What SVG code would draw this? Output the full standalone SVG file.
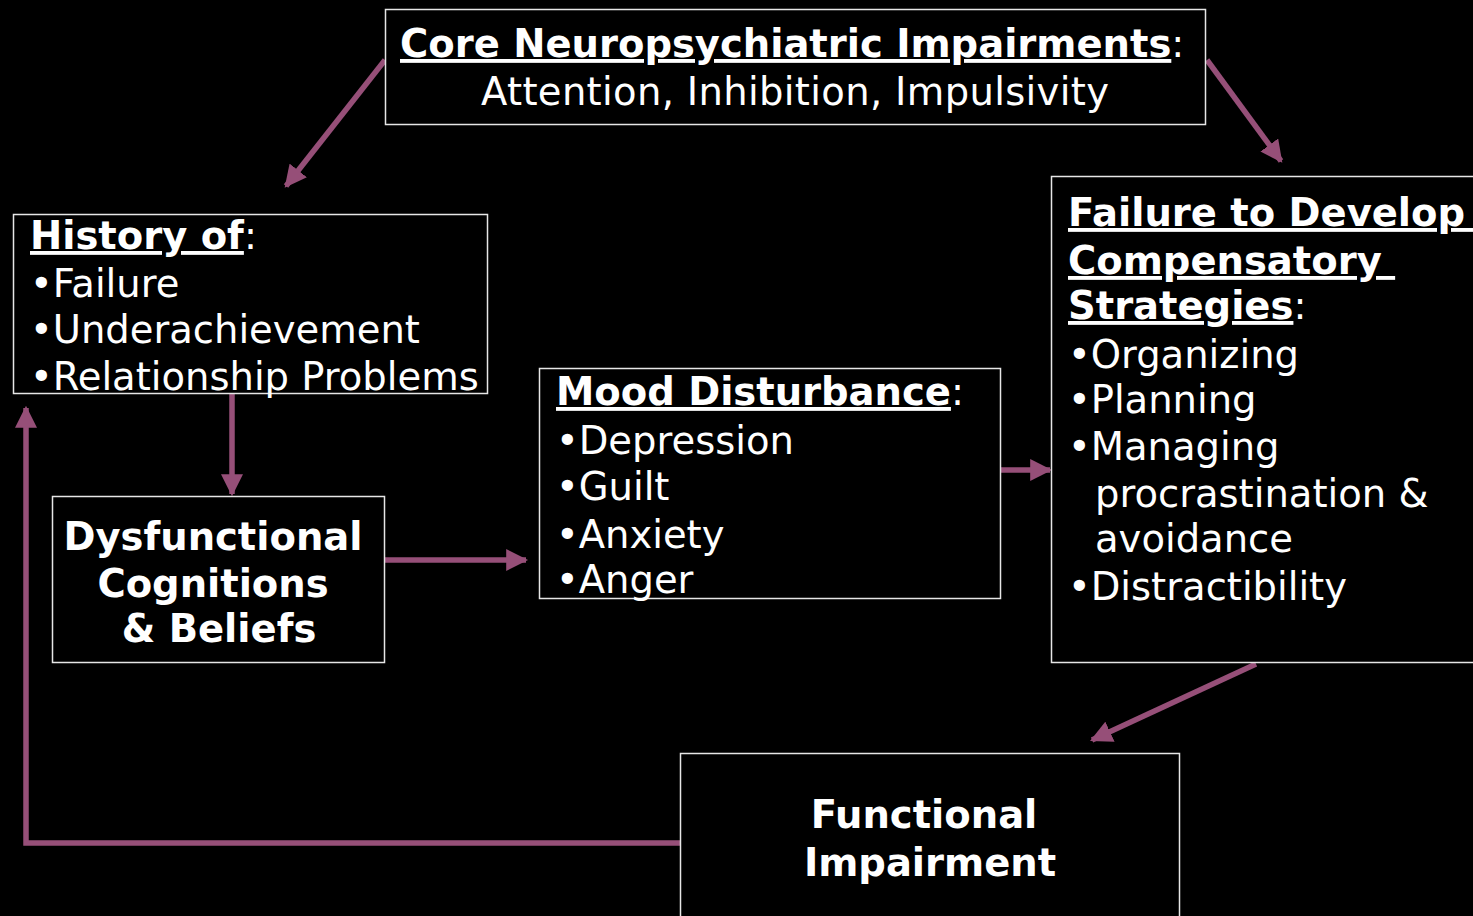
<svg xmlns="http://www.w3.org/2000/svg" width="1473" height="916" viewBox="0 0 1473 916">
<defs>
<style>
.box{fill:#000;stroke:#e6e6e6;stroke-width:1.5}
.t{font-family:"DejaVu Sans",Verdana,sans-serif;font-size:38.5px;fill:#fff}
.b{font-weight:bold}
.u{text-decoration:underline}
.c{fill:none;stroke:#964f78;stroke-width:5.5}
</style>
<marker id="ah" viewBox="0 0 10 10" refX="9" refY="5" markerWidth="4" markerHeight="4" orient="auto" markerUnits="strokeWidth">
<path d="M0,0 L10,5 L0,10 z" fill="#964f78"/>
</marker>
</defs>
<rect width="1473" height="916" fill="#000"/>
<g id="connectors">
<line class="c" x1="385" y1="60" x2="286" y2="186" marker-end="url(#ah)"/>
<line class="c" x1="1207" y1="60" x2="1281" y2="161" marker-end="url(#ah)"/>
<line class="c" x1="232" y1="394" x2="232" y2="494" marker-end="url(#ah)"/>
<line class="c" x1="385" y1="560" x2="526" y2="560" marker-end="url(#ah)"/>
<line class="c" x1="1001" y1="470" x2="1050" y2="470" marker-end="url(#ah)"/>
<line class="c" x1="1256" y1="664" x2="1092" y2="740" marker-end="url(#ah)"/>
<polyline class="c" points="680,843 26,843 26,408" marker-end="url(#ah)"/>
</g>
<g id="core">
<rect class="box" x="385.5" y="9.5" width="820" height="115"/>
<text class="t" x="400" y="57"><tspan class="b u">Core Neuropsychiatric Impairments</tspan>:</text>
<text class="t" x="795" y="105" text-anchor="middle" textLength="628" lengthAdjust="spacing">Attention, Inhibition, Impulsivity</text>
</g>
<g id="history">
<rect class="box" x="13.5" y="214.5" width="474" height="179"/>
<text class="t" x="30" y="249"><tspan class="b u">History of</tspan>:</text>
<text class="t" x="30" y="297">•Failure</text>
<text class="t" x="30" y="343">•Underachievement</text>
<text class="t" x="30" y="390">•Relationship Problems</text>
</g>
<g id="dysfunctional">
<rect class="box" x="52.5" y="496.5" width="332" height="166"/>
<text class="t b" x="213" y="550" text-anchor="middle">Dysfunctional</text>
<text class="t b" x="213" y="597" text-anchor="middle">Cognitions</text>
<text class="t b" x="219" y="642" text-anchor="middle">&amp; Beliefs</text>
</g>
<g id="mood">
<rect class="box" x="539.5" y="368.5" width="461" height="230"/>
<text class="t" x="556" y="405"><tspan class="b u">Mood Disturbance</tspan>:</text>
<text class="t" x="556" y="454">•Depression</text>
<text class="t" x="556" y="500">•Guilt</text>
<text class="t" x="556" y="548">•Anxiety</text>
<text class="t" x="556" y="593">•Anger</text>
</g>
<g id="failure">
<rect class="box" x="1051.5" y="176.5" width="430" height="486"/>
<text class="t b u" x="1068" y="226">Failure to Develop&#160;</text>
<text class="t b u" x="1068" y="274">Compensatory&#160;</text>
<text class="t" x="1068" y="319"><tspan class="b u">Strategies</tspan>:</text>
<text class="t" x="1068" y="368">•Organizing</text>
<text class="t" x="1068" y="413">•Planning</text>
<text class="t" x="1068" y="460">•Managing</text>
<text class="t" x="1095" y="507">procrastination &amp;</text>
<text class="t" x="1095" y="552">avoidance</text>
<text class="t" x="1068" y="600">•Distractibility</text>
</g>
<g id="functional">
<rect class="box" x="680.5" y="753.5" width="499" height="180"/>
<text class="t b" x="924" y="828" text-anchor="middle">Functional</text>
<text class="t b" x="930" y="876" text-anchor="middle">Impairment</text>
</g>
</svg>
